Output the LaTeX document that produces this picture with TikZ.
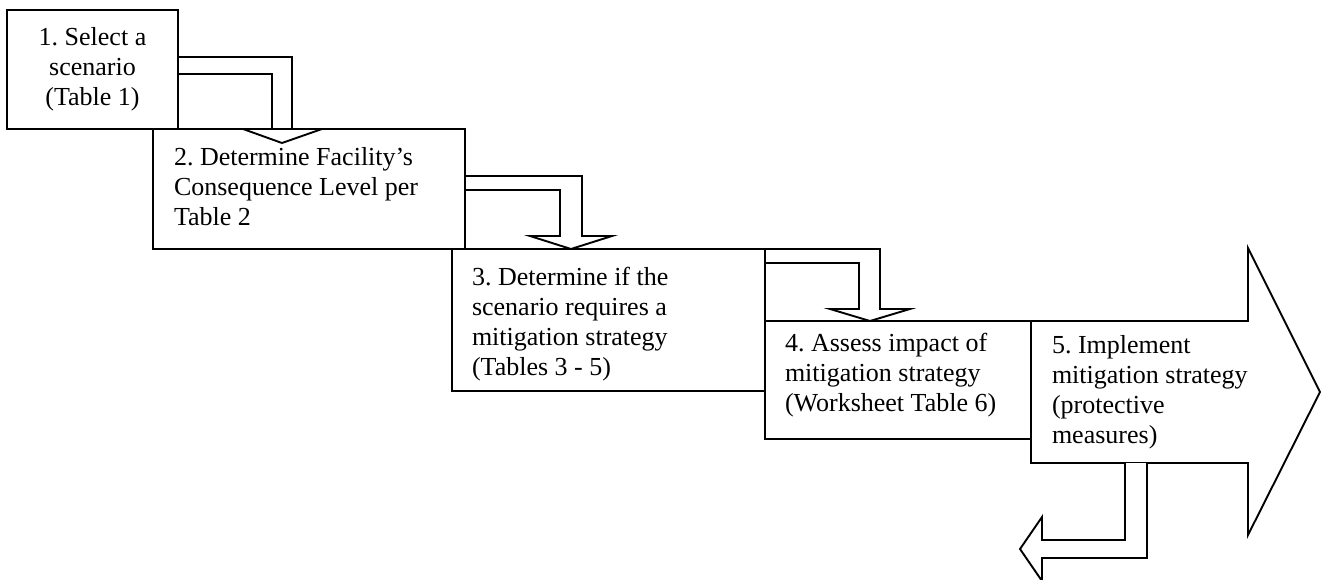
\documentclass[tikz,border=0pt]{standalone}
\usepackage{fontspec}
\setmainfont{Liberation Serif}
\usetikzlibrary{calc,backgrounds}
\begin{document}
\frenchspacing
\begin{tikzpicture}[x=1pt,y=-1pt,
  box/.style={draw,line width=1.9pt,rectangle,inner sep=0pt,outer sep=0pt,anchor=north west},
  blk/.style={draw,fill=white,line width=1.9pt,line join=miter},
  txt/.style={inner sep=0pt,outer sep=0pt,font=\fontsize{26}{30}\selectfont\frenchspacing}]
\useasboundingbox (0,0) rectangle (1323,580);
% step boxes
\node[box,minimum width=171pt,minimum height=119pt] (b1) at (7,10) {};
\node[box,minimum width=312pt,minimum height=120pt] (b2) at (153,129) {};
\node[box,minimum width=313pt,minimum height=142pt] (b3) at (452,249) {};
\node[box,minimum width=266pt,minimum height=118pt] (b4) at (765,321) {};
\coordinate (s5) at (b4.east |- 0,463);
\coordinate (ret) at (1020,549);
% texts
\node[txt,align=center,anchor=north] (t1) at ($(b1.north)+(0,17.5)$) {1. Select a\\scenario\\(Table 1)};
\node[txt,align=left,anchor=north west] (t2) at ($(b2.north west)+(21,18.5)$) {2. Determine Facility’s\\Consequence Level per\\Table 2};
\node[txt,align=left,anchor=north west] (t3) at ($(b3.north west)+(20,18.5)$) {3. Determine if the\\scenario requires a\\mitigation strategy\\(Tables 3 - 5)};
\node[txt,align=left,anchor=north west] (t4) at ($(b4.north west)+(20,12.5)$) {4. Assess impact of\\mitigation strategy\\(Worksheet Table 6)};
\node[txt,align=left,anchor=north west] (b5) at ($(b4.north east)+(21,14)$) {5. Implement\\mitigation strategy\\(protective\\measures)};
\begin{scope}[on background layer]
% big arrow of step 5
\draw[blk] (b4.north east) -- (1248,0 |- b4.north) -- (1248,248) -- (1320,392) -- (1248,535) -- (1248,463) -- (s5) -- cycle;
% bent block arrows
\draw[blk] (b1.east |- 0,57) -- (292,57) -- (292,0 |- b2.north) -- (322,0 |- b2.north) -- (282,143) -- (243,0 |- b2.north) -- (272,0 |- b2.north) -- (272,74) -- (b1.east |- 0,74) -- cycle;
\draw[blk] (b2.east |- 0,176) -- (582,176) -- (582,236) -- (612,236) -- (571,0 |- b3.north) -- (530,236) -- (560,236) -- (560,190) -- (b2.east |- 0,190) -- cycle;
\draw[blk] (b3.north east) -- (880,0 |- b3.north) -- (880,309) -- (910,309) -- (870,0 |- b4.north) -- (830,309) -- (859,309) -- (859,263) -- (b3.east |- 0,263) -- cycle;
\draw[blk] (s5 -| 1147,0) -- (1147,558) -- (1042,558) -- (1042,581) -- (ret) -- (1042,517) -- (1042,540) -- (1125,540) -- (s5 -| 1125,0);
\end{scope}
\end{tikzpicture}
\end{document}
